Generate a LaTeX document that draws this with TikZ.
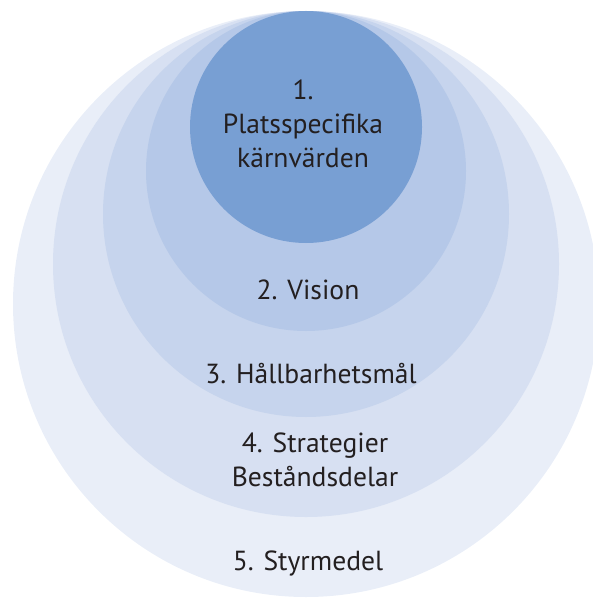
\documentclass[tikz,border=0pt]{standalone}
\usepackage{fontspec}
\setmainfont{PT Sans}
\definecolor{ringone}{RGB}{120, 159, 211}
\definecolor{ringtwo}{RGB}{181, 200, 232}
\definecolor{ringthree}{RGB}{198, 212, 237}
\definecolor{ringfour}{RGB}{215, 224, 242}
\definecolor{ringfive}{RGB}{233, 238, 248}
\definecolor{labelink}{RGB}{35, 31, 32}
\usetikzlibrary{positioning}

\begin{document}
\begin{tikzpicture}[
  x=0.5pt, y=0.5pt,
  ring/.style={circle, draw=none, inner sep=0pt},
  ringlabel/.style={align=center, font=\fontsize{13.8}{17}\selectfont, text=labelink}
]
  \useasboundingbox (0, 0) rectangle (593, -599);
  \begin{scope}
    \clip (0, 0) rectangle (593, -599);
    \node[ring, fill=ringfive, minimum size=293pt] (c5) at (306, -304) {};
  \end{scope}
  \node[ring, fill=ringfour, minimum size=253pt] (c4) at (306, -264) {};
  \node[ring, fill=ringthree, minimum size=203pt] (c3) at (306, -214) {};
  \node[ring, fill=ringtwo, minimum size=160pt] (c2) at (306, -171) {};
  \node[ring, fill=ringone, minimum size=116pt] (c1) at (306, -127) {};

  \node[ringlabel] (core) at (303, -124) {1.\\Platsspecifika\\kärnvärden};
  \node[ringlabel] (vision) at (308, -290) {2. Vision};
  \node[ringlabel] (goals) at (311, -374) {3. Hållbarhetsmål};
  \node[ringlabel] (strat) at (315, -460) {4. Strategier\\Beståndsdelar};
  \node[ringlabel] (tools) at (308, -563) {5. Styrmedel};
\end{tikzpicture}
\end{document}
